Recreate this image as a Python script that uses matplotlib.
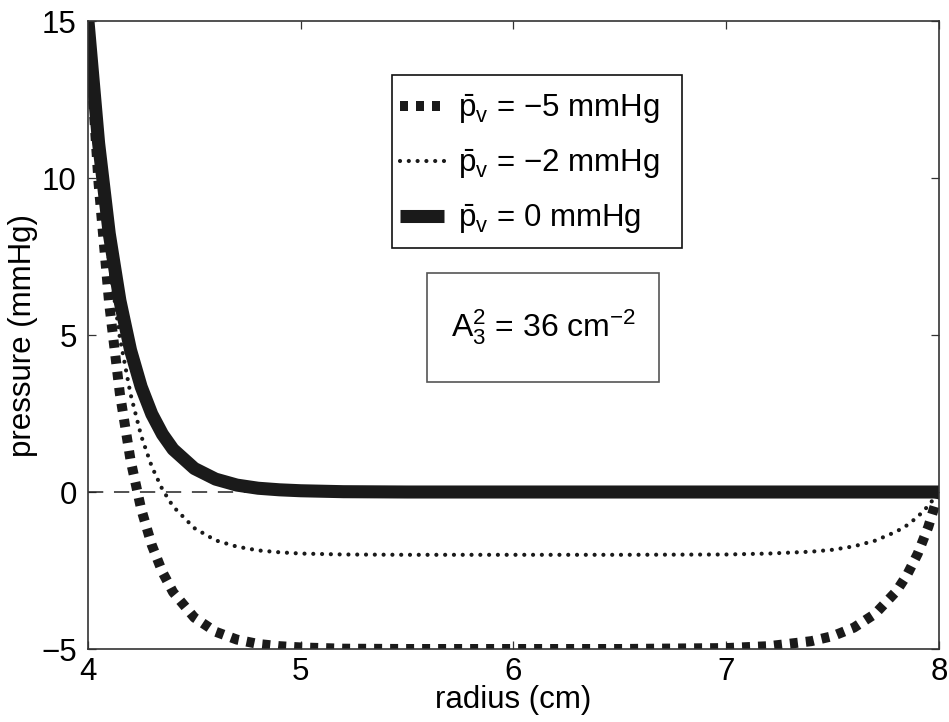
import matplotlib
matplotlib.use('Agg')
import matplotlib.pyplot as plt
from matplotlib.patches import Rectangle

plt.rcParams['font.family'] = ['Liberation Sans', 'DejaVu Sans']
plt.rcParams['mathtext.fontset'] = 'custom'
plt.rcParams['mathtext.rm'] = 'Liberation Sans'
plt.rcParams['mathtext.it'] = 'Liberation Sans:italic'

# radius (cm) and pressure (mmHg) for the three venous pressures
radius = [4.0, 4.05, 4.1, 4.15, 4.2, 4.25, 4.3, 4.35, 4.4, 4.5, 4.6, 4.7, 4.8, 4.9, 5.0,
          5.2, 5.5, 6.0, 6.5, 7.0, 7.2, 7.4, 7.5, 7.6, 7.7, 7.8, 7.85, 7.9, 7.95, 8.0]
p_minus5 = [15, 9.82, 5.98, 3.13, 1.02, -0.54, -1.69, -2.55, -3.19, -4.00, -4.45, -4.70, -4.84, -4.91, -4.95,
            -4.99, -5.0, -5.0, -5.0, -4.97, -4.91, -4.75, -4.59, -4.32, -3.88, -3.16, -2.64, -1.97, -1.11, 0]
p_minus2 = [15, 10.60, 7.33, 4.91, 3.12, 1.79, 0.81, 0.08, -0.46, -1.15, -1.54, -1.74, -1.86, -1.92, -1.96,
            -1.99, -2.0, -2.0, -2.0, -1.99, -1.96, -1.90, -1.84, -1.73, -1.55, -1.26, -1.06, -0.79, -0.44, 0]
p_zero = [15, 11.11, 8.23, 6.10, 4.52, 3.35, 2.48, 1.84, 1.36, 0.75, 0.41, 0.22, 0.12, 0.07, 0.04,
          0.01, 0, 0, 0, 0, 0, 0, 0, 0, 0, 0, 0, 0, 0, 0]

labels = [r'$\bar{\mathrm{p}}_\mathrm{v}$ = −5 mmHg',
          r'$\bar{\mathrm{p}}_\mathrm{v}$ = −2 mmHg',
          r'$\bar{\mathrm{p}}_\mathrm{v}$ = 0 mmHg']

fs = 22.5

fig = plt.figure(figsize=(9.49, 7.22), dpi=100)
ax = fig.add_axes([0.0927, 0.1011, 0.8967, 0.8698])

ax.plot([4, 8], [0, 0], color='#222222', lw=1.1, linestyle=(0, (10, 7)))
l1, = ax.plot(radius, p_minus5, color='#1a1a1a', lw=7.2, linestyle=(0, (0.8, 0.8)),
              dash_capstyle='butt', label=labels[0])
l2, = ax.plot(radius, p_minus2, color='#1a1a1a', lw=3.0, linestyle=(0, (0.01, 2.1)),
              dash_capstyle='round', label=labels[1])
l3, = ax.plot(radius, p_zero, color='#1a1a1a', lw=9.4, solid_capstyle='butt', label=labels[2])

ax.set_xlim(4, 8)
ax.set_ylim(-5, 15)
ax.set_xticks([4, 5, 6, 7, 8])
ax.set_yticks([-5, 0, 5, 10, 15])
ax.tick_params(direction='in', length=6, width=0.9, labelsize=fs, pad=8,
               top=True, right=True, color='#333333')
ax.tick_params(axis='x', pad=6)
for s in ax.spines.values():
    s.set_color('#333333')
    s.set_linewidth(1.2)

ax.set_xlabel('radius (cm)', fontsize=fs, labelpad=-2)
ax.set_ylabel('pressure (mmHg)', fontsize=fs, labelpad=2)

# legend box
ax.add_patch(Rectangle((0.357, 0.638), 0.341, 0.276, transform=ax.transAxes,
                       fill=False, edgecolor='#111111', lw=1.2, zorder=5))
leg = ax.legend(handles=[l1, l2, l3], loc='center left', bbox_to_anchor=(0.3666, 0.772),
                frameon=False, fontsize=fs, handlelength=1.4, handletextpad=0.45,
                labelspacing=0.68, borderpad=0, borderaxespad=0)

# parameter box
ax.add_patch(Rectangle((0.398, 0.425), 0.273, 0.174, transform=ax.transAxes,
                       fill=False, edgecolor='#555555', lw=1.2, zorder=5))
ax.text(0.535, 0.512, r'$\mathrm{A}_3^2$ = 36 cm$^{-2}$', transform=ax.transAxes,
        fontsize=23, ha='center', va='center')

fig.savefig('out.png', dpi=100)
